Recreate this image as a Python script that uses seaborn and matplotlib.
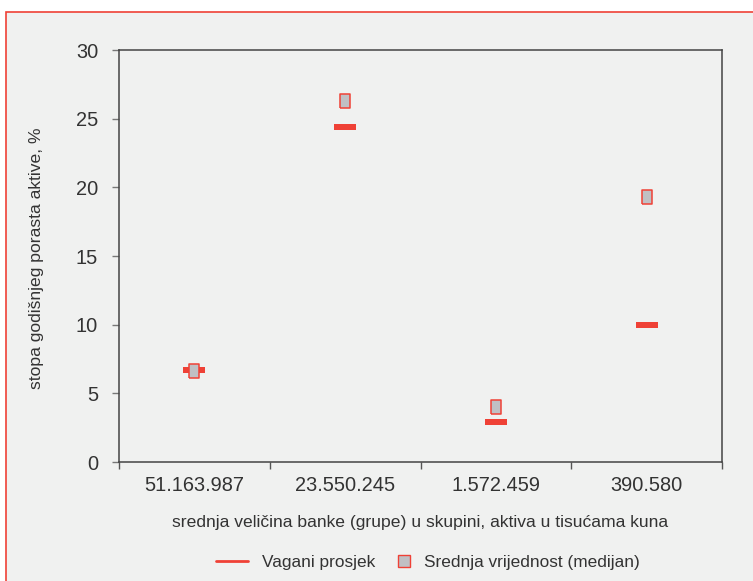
import matplotlib
matplotlib.use("Agg")
import matplotlib.pyplot as plt
import matplotlib.patches as mpatches
from matplotlib.lines import Line2D
from matplotlib.legend_handler import HandlerLine2D
import pandas as pd
import seaborn as sns

# podaci
categories = ["51.163.987", "23.550.245", "1.572.459", "390.580"]
weighted_mean = [6.7, 24.4, 2.9, 10.0]
median_value = [6.6, 26.3, 4.0, 19.3]
y_ticks = [0, 5, 10, 15, 20, 25, 30]

RED = "#ef4136"
GREY_FILL = "#c0c0c4"
BG = "#f0f1f0"
TXT = "#333333"


class RightMarker(HandlerLine2D):
    # kvadratic blize desnom kraju prostora za simbol (marker ide u sredinu xdata)
    def get_xdata(self, legend, xdescent, ydescent, width, height, fontsize):
        m = -xdescent + width - 0.29 * fontsize
        return [m - 1, m + 1], [m]


sns.set_theme(style="white")
plt.rcParams["font.family"] = ["Liberation Sans", "DejaVu Sans"]

df = pd.DataFrame({"grupa": categories, "prosjek": weighted_mean, "medijan": median_value})

fig = plt.figure(figsize=(7.53, 5.81), dpi=100)
fig.patch.set_facecolor("white")
fig.patches.append(mpatches.Rectangle((6.5 / 753, -0.05), 1.1, 0.05 + (581 - 12.5) / 581,
                                      transform=fig.transFigure, facecolor=BG,
                                      edgecolor=RED, linewidth=1.2, zorder=-10))

ax = fig.add_axes([119 / 753, 1 - 462 / 581, (722 - 119) / 753, (462 - 50) / 581])
ax.set_facecolor(BG)

bar_marker = [(-11, -3), (11, -3), (11, 3), (-11, 3), (-11, -3)]
box_marker = [(-5, -7), (5, -7), (5, 7), (-5, 7), (-5, -7)]

sns.scatterplot(data=df, x="grupa", y="prosjek", marker=bar_marker, s=251,
                color=RED, edgecolor="none", linewidth=0, ax=ax, zorder=3)
sns.scatterplot(data=df, x="grupa", y="medijan", marker=box_marker, s=102,
                color=GREY_FILL, edgecolor=RED, linewidth=1.1, ax=ax, zorder=4)

ax.set_xlim(-0.5, 3.5)
ax.set_ylim(0, 30)
ax.set_yticks(y_ticks)
ax.set_yticklabels([str(t) for t in y_ticks], fontsize=14.4, color=TXT)
ax.tick_params(axis="y", which="major", left=True, length=5, width=1, color="#777777",
               direction="out", pad=10)

ax.set_xticks([-0.5, 0.5, 1.5, 2.5, 3.5])
ax.set_xticklabels([""] * 5)
ax.set_xticks(range(len(categories)), minor=True)
ax.set_xticklabels(categories, minor=True, fontsize=14.4, color=TXT)
ax.tick_params(axis="x", which="major", bottom=True, length=5, width=1, color="#555555",
               direction="out")
ax.tick_params(axis="x", which="minor", bottom=True, length=0, pad=10)

for side in ["left", "bottom", "top", "right"]:
    ax.spines[side].set_color("#444444")
    ax.spines[side].set_linewidth(1.1)

ax.set_xlabel("srednja veličina banke (grupe) u skupini, aktiva u tisućama kuna",
              fontsize=12.6, color=TXT)
ax.xaxis.set_label_coords(0.5, -0.128)
ax.set_ylabel("stopa godišnjeg porasta aktive, %", fontsize=12.6, color=TXT)
ax.yaxis.set_label_coords(-0.124, 0.495)

line_handle = Line2D([0], [0], color=RED, linewidth=2)
box_handle = Line2D([0], [0], marker="s", linestyle="none", markersize=8,
                    markerfacecolor=GREY_FILL, markeredgecolor=RED, markeredgewidth=1)
leg = ax.legend([line_handle, box_handle], ["Vagani prosjek", "Srednja vrijednost (medijan)"],
                handler_map={box_handle: RightMarker(numpoints=1)},
                loc="center", bbox_to_anchor=(0.512, -0.245), ncol=2, frameon=False,
                fontsize=12.4, handlelength=1.85, columnspacing=0.1, handletextpad=0.85)
for t in leg.get_texts():
    t.set_color(TXT)

fig.savefig("out.png", dpi=100, facecolor=fig.get_facecolor())
